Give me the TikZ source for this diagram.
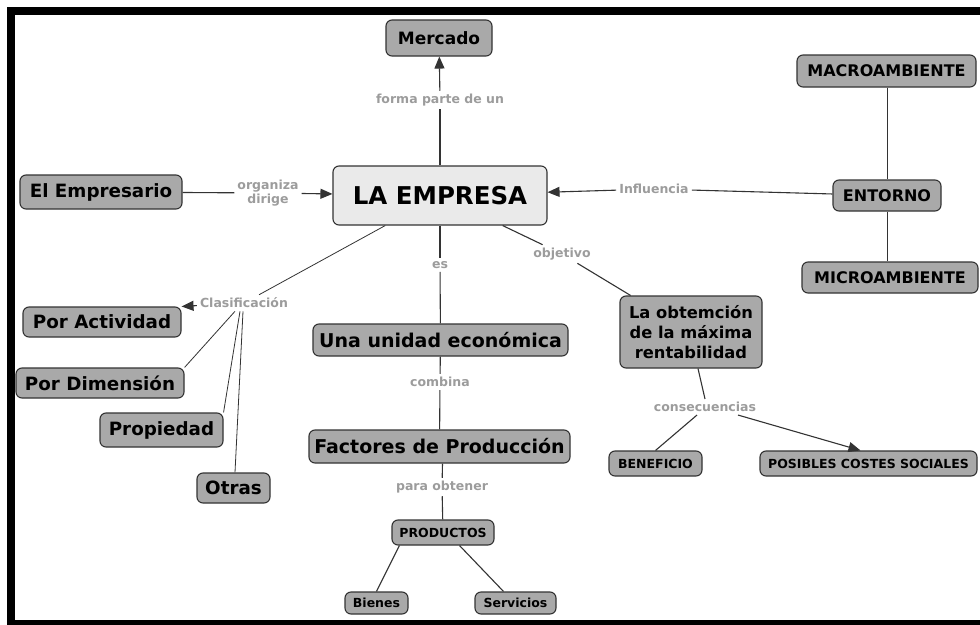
\documentclass[tikz,border=0pt]{standalone}
\usepackage{fontspec}
\setmainfont{DejaVu Sans}
\usetikzlibrary{arrows.meta}
\definecolor{boxgray}{HTML}{A9A9A9}
\definecolor{lightbox}{HTML}{EAEAEA}
\definecolor{edgegray}{HTML}{333333}
\definecolor{labgray}{HTML}{9C9C9C}
\tikzset{
  cbox/.style={draw=edgegray, line width=1.1pt, fill=boxgray, rounded corners=6pt,
    inner sep=0pt, align=center, font=\bfseries\fontsize{#1}{#1}\selectfont},
  lab/.style={text=labgray, font=\bfseries\fontsize{12.5}{14}\selectfont, inner sep=3pt, align=center},
  conn/.style={draw=edgegray, line width=1.1pt},
  arr/.style={conn, -{Triangle[length=12pt,width=10pt]}},
}
\begin{document}
\begin{tikzpicture}[x=1pt,y=-1pt]
\useasboundingbox (0,0) rectangle (980,624);
\fill[black] (7,7) rectangle (995,635);
\fill[white] (15,15) rectangle (995,620);

% nodes
\node[cbox=17, minimum width=106pt, minimum height=36pt] (mercado) at (439,38) {Mercado};
\node[cbox=24.5, fill=lightbox, minimum width=214pt, minimum height=59pt] (empresa) at (440,195.5) {LA EMPRESA};
\node[cbox=18.3, minimum width=162pt, minimum height=34pt] (empresario) at (101,192) {El Empresario};
\node[cbox=16, minimum width=179pt, minimum height=32pt] (macro) at (886.5,71) {MACROAMBIENTE};
\node[cbox=16, minimum width=108pt, minimum height=31pt] (entorno) at (887,195.5) {ENTORNO};
\node[cbox=16, minimum width=176pt, minimum height=31pt] (micro) at (890,277.5) {MICROAMBIENTE};
\node[cbox=18.3, minimum width=158pt, minimum height=30pt] (actividad) at (102,322) {Por Actividad};
\node[cbox=18.3, minimum width=168pt, minimum height=30pt] (dimension) at (100,383) {Por Dimensión};
\node[cbox=18.3, minimum width=123pt, minimum height=34pt] (propiedad) at (161.5,430) {Propiedad};
\node[cbox=18.3, minimum width=73pt, minimum height=30pt] (otras) at (233.5,488) {Otras};
\node[cbox=19, minimum width=255pt, minimum height=32pt] (unidad) at (440.5,340) {Una unidad económica};
\node[cbox=19, minimum width=261pt, minimum height=33pt] (factores) at (439.5,446.5) {Factores de Producción};
\node[cbox=16, font=\bfseries\fontsize{16.3}{20}\selectfont, minimum width=142pt, minimum height=72pt] (obt) at (691,332) {La obtemción\\de la máxima\\rentabilidad};
\node[cbox=12.5, minimum width=93pt, minimum height=25pt] (beneficio) at (655.5,463.5) {BENEFICIO};
\node[cbox=12.5, minimum width=217pt, minimum height=25pt] (posibles) at (868.5,463.5) {POSIBLES COSTES SOCIALES};
\node[cbox=12.5, minimum width=102pt, minimum height=25pt] (productos) at (443,532.5) {PRODUCTOS};
\node[cbox=12.5, minimum width=63pt, minimum height=22pt] (bienes) at (376.5,603) {Bienes};
\node[cbox=12.5, minimum width=81pt, minimum height=22pt] (servicios) at (515.5,603) {Servicios};

% labels
\node[lab] (lforma) at (440,100) {forma parte de un};
\node[lab, font=\bfseries\fontsize{12.5}{13.5}\selectfont] (lorg) at (268,193) {organiza\\dirige};
\node[lab] (linf) at (654,189) {Influencia};
\node[lab] (lclas) at (244,303) {Clasificación};
\node[lab] (les) at (440,265) {es};
\node[lab] (lobj) at (562,254) {objetivo};
\node[lab] (lcomb) at (440,382) {combina};
\node[lab] (lcons) at (705,407) {consecuencias};
\node[lab] (lpara) at (442,487) {para obtener};

% connectors
\draw[conn] (empresa) -- (lforma);
\draw[arr] (lforma) -- (mercado);
\draw[conn] (empresario) -- (lorg);
\draw[arr] (lorg) -- (empresa);
\draw[conn] (entorno) -- (linf);
\draw[arr] (linf) -- (empresa);
\draw[conn, line width=0.8pt] (macro.south -| entorno.north) -- (entorno.north);
\draw[conn, line width=0.8pt] (entorno.south) -- (entorno.south |- micro.north);
\draw[conn, line width=0.8pt] (empresa) -- (lclas);
\draw[arr] (lclas) -- (actividad.north east);
\draw[conn, line width=0.8pt] ([xshift=-9pt]lclas.south) -- (dimension.north east);
\draw[conn, line width=0.8pt] ([xshift=-4pt]lclas.south) -- (propiedad.north east);
\draw[conn, line width=0.8pt] ([xshift=-1pt]lclas.south) -- ([xshift=1.5pt]otras.north);
\draw[conn] (empresa) -- (les);
\draw[conn] (les) -- (unidad);
\draw[conn] (empresa) -- (lobj);
\draw[conn] (lobj) -- (obt);
\draw[conn] (unidad) -- (lcomb);
\draw[conn] (lcomb) -- (factores);
\draw[conn] ([xshift=3pt]factores.south) -- (lpara);
\draw[conn] (lpara) -- (productos);
\draw[conn] ([xshift=8pt]productos.south west) -- (bienes.north);
\draw[conn] ([xshift=-35pt]productos.south east) -- ([xshift=-12pt]servicios.north);
\draw[conn] ([xshift=7pt]obt.south) -- (lcons.north);
\draw[conn] ([xshift=-8pt]lcons.south) -- (beneficio.north);
\draw[arr] ([xshift=33pt]lcons.south) -- ([xshift=-8pt]posibles.north);
\end{tikzpicture}
\end{document}
